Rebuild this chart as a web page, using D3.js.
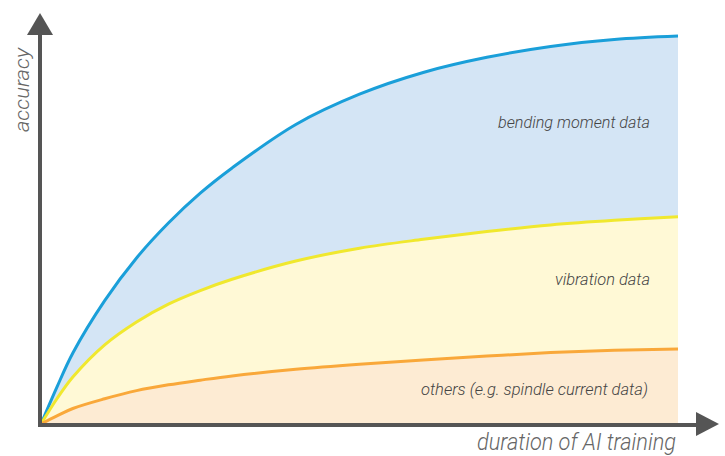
<!DOCTYPE html>
<html lang="en">
<head>
<meta charset="UTF-8">
<title>Accuracy vs duration of AI training</title>
<script src="https://d3js.org/d3.v7.min.js"></script>
<style>
  html, body { margin: 0; padding: 0; background: #fff; }
  text { font-family: "Roboto", sans-serif; font-style: italic; font-weight: 300; }
</style>
</head>
<body>
<svg width="725" height="456"></svg>
<script>
// duration of training (relative %), shared by all series
const duration = [0, 2.5, 5, 10, 15, 20, 25, 30, 40, 50, 60, 70, 80, 90, 100];
// accuracy (relative %) for each data source
const bendingMoment = [0, 9.5, 18.3, 31.8, 42.8, 51.8, 59.5, 66, 77.2, 85, 90.6, 94.5, 97.3, 99.1, 100];
const vibration = [0, 6.5, 12.1, 20.4, 26.3, 30.9, 34.4, 37.3, 42, 45.3, 47.6, 49.6, 51.3, 52.5, 53.4];
const others = [0, 2.1, 4, 6.5, 8.6, 10.1, 11.3, 12.4, 14.1, 15.4, 16.5, 17.5, 18.4, 19, 19.3];

const seriesNames = ["bending moment data", "vibration data", "others (e.g. spindle current data)"];
const axisLabels = ["duration of AI training", "accuracy"];

const svg = d3.select("svg");

const x = d3.scaleLinear().domain([0, 100]).range([41, 678]);
const y = d3.scaleLinear().domain([0, 100]).range([424, 36]);

const series = [
  { values: bendingMoment, line: "#1a9fd9", fill: "#d4e5f5" },
  { values: vibration, line: "#f0e82e", fill: "#fff9d6" },
  { values: others, line: "#f9a83a", fill: "#fdebd3" }
];

const curve = d3.curveCatmullRom.alpha(0.5);

const area = d3.area()
  .x(d => x(d[0]))
  .y0(y(0))
  .y1(d => y(d[1]))
  .curve(curve);

const line = d3.line()
  .x(d => x(d[0]))
  .y(d => y(d[1]))
  .curve(curve);

// filled areas, back to front
series.forEach(s => {
  const pts = duration.map((d, i) => [d, s.values[i]]);
  svg.append("path").attr("d", area(pts)).attr("fill", s.fill);
});

// curves on top
series.forEach(s => {
  const pts = duration.map((d, i) => [d, s.values[i]]);
  svg.append("path")
    .attr("d", line(pts))
    .attr("fill", "none")
    .attr("stroke", s.line)
    .attr("stroke-width", 3);
});

// axes with arrow heads
const axisColor = "#555555";
svg.append("line")
  .attr("x1", 40).attr("y1", 425).attr("x2", 698).attr("y2", 425)
  .attr("stroke", axisColor).attr("stroke-width", 4);
svg.append("line")
  .attr("x1", 40).attr("y1", 427).attr("x2", 40).attr("y2", 32)
  .attr("stroke", axisColor).attr("stroke-width", 4);
svg.append("path").attr("d", "M40,13 L53,35 L27,35 Z").attr("fill", axisColor);
svg.append("path").attr("d", "M719,424 L696,412 L696,436 Z").attr("fill", axisColor);

// series labels
const labelPos = [
  { x: 650, y: 128, w: 152 },
  { x: 650, y: 285, w: 95 },
  { x: 648, y: 395, w: 227 }
];
seriesNames.forEach((name, i) => {
  const p = labelPos[i];
  svg.append("text")
    .attr("x", p.x - p.w).attr("y", p.y)
    .attr("font-size", 16)
    .attr("fill", "#444")
    .attr("textLength", p.w)
    .attr("lengthAdjust", "spacingAndGlyphs")
    .text(name);
});

// axis titles
svg.append("text")
  .attr("x", 477).attr("y", 450)
  .attr("font-size", 23)
  .attr("fill", "#666")
  .attr("textLength", 199)
  .attr("lengthAdjust", "spacingAndGlyphs")
  .text(axisLabels[0]);

svg.append("text")
  .attr("transform", "translate(29,132) rotate(-90)")
  .attr("font-size", 21)
  .attr("fill", "#666")
  .attr("textLength", 84)
  .attr("lengthAdjust", "spacingAndGlyphs")
  .text(axisLabels[1]);
</script>
</body>
</html>
